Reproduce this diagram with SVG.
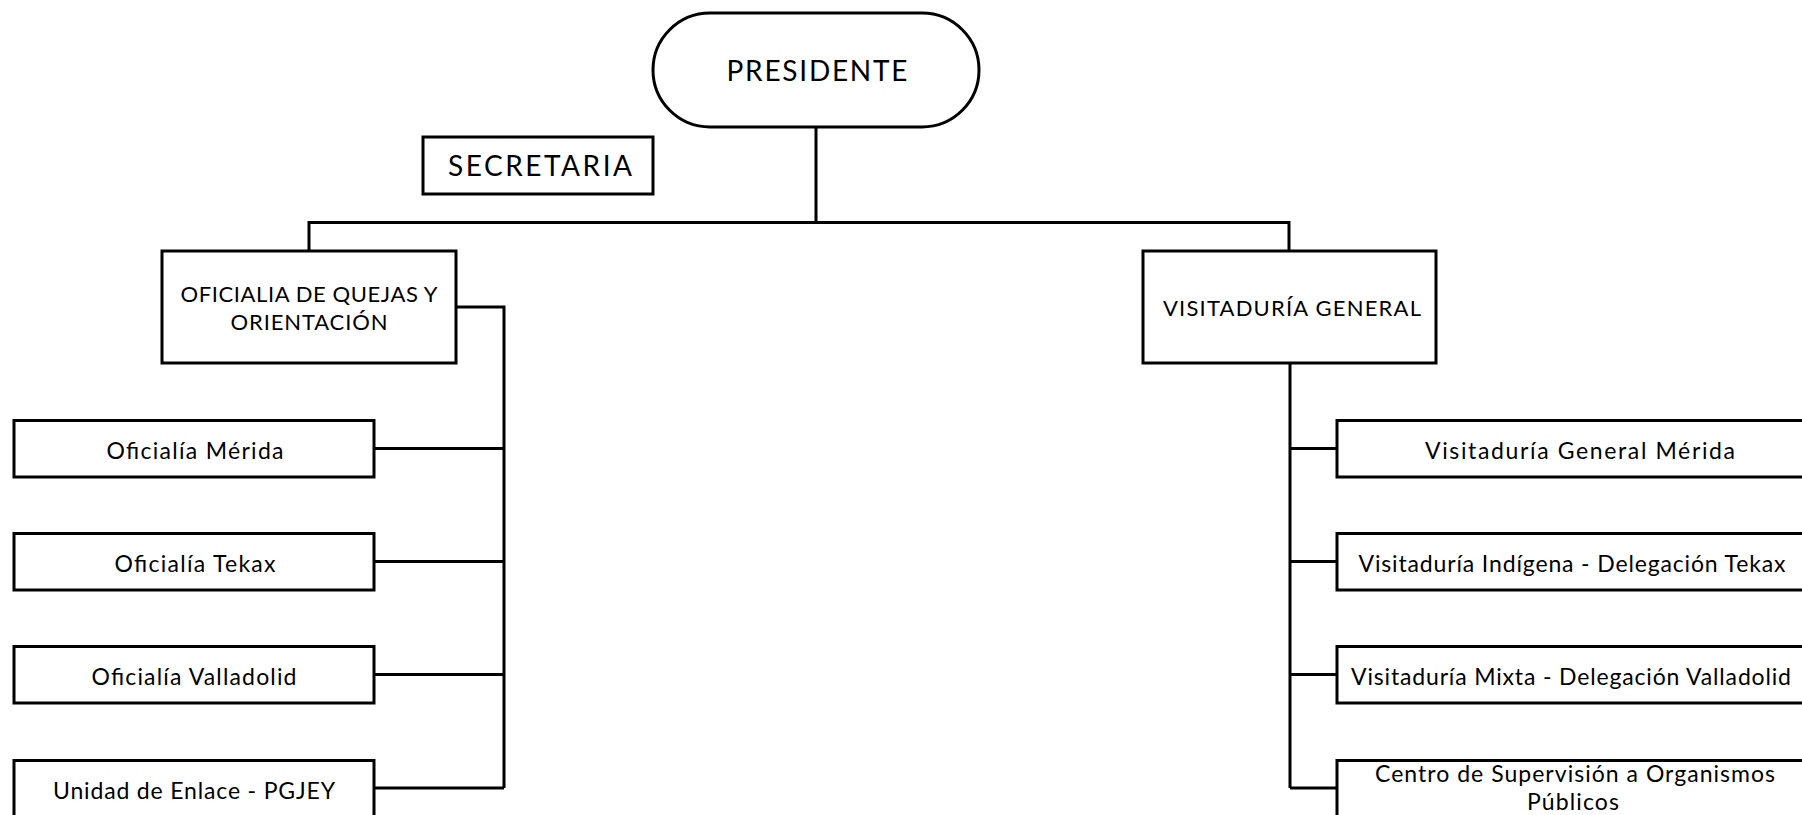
<svg xmlns="http://www.w3.org/2000/svg" width="1802" height="815" viewBox="0 0 1802 815">
<style>
.box{fill:#fff;stroke:#000;stroke-width:3}
.ln{fill:none;stroke:#000;stroke-width:3}
text{font-family:Lato,"Liberation Sans",sans-serif;fill:#000;text-anchor:middle}
.big{font-size:28px}
.mid{font-size:22px}
.sm{font-size:23px}
</style>
<rect width="1802" height="815" fill="#fff"/>
<g id="connectors">
<path class="ln" d="M816 127 V222.5 M309 251 V222.5 H1289 V251"/>
<path class="ln" d="M456 307 H504 V788 M374 448.5 H504 M374 561.5 H504 M374 674.5 H504 M374 788 H504"/>
<path class="ln" d="M1290 363 V788 M1290 448.5 H1337 M1290 561.5 H1337 M1290 674.5 H1337 M1290 788 H1337"/>
</g>
<g id="presidente">
<rect class="box" x="653" y="13" width="326" height="114" rx="57" ry="57"/>
<text class="big" x="817" y="81" textLength="181" lengthAdjust="spacing">PRESIDENTE</text>
</g>
<g id="secretaria">
<rect class="box" x="423" y="137" width="230" height="57"/>
<text class="big" x="540" y="176" textLength="184" lengthAdjust="spacing">SECRETARIA</text>
</g>
<g id="oficialia">
<rect class="box" x="162" y="251" width="294" height="112"/>
<text class="mid" x="309" y="302" textLength="257" lengthAdjust="spacing">OFICIALIA DE QUEJAS Y</text>
<text class="mid" x="309" y="330" textLength="157" lengthAdjust="spacing">ORIENTACIÓN</text>
</g>
<g id="visitaduria">
<rect class="box" x="1143" y="251" width="293" height="112"/>
<text class="mid" x="1292" y="316" textLength="258" lengthAdjust="spacing">VISITADURÍA GENERAL</text>
</g>
<g id="of-merida">
<rect class="box" x="14" y="420.5" width="360" height="56.5"/>
<text class="sm" x="195" y="459" textLength="177" lengthAdjust="spacing">Oficialía Mérida</text>
</g>
<g id="of-tekax">
<rect class="box" x="14" y="533.5" width="360" height="56.5"/>
<text class="sm" x="195" y="572" textLength="161" lengthAdjust="spacing">Oficialía Tekax</text>
</g>
<g id="of-valladolid">
<rect class="box" x="14" y="646.5" width="360" height="56.5"/>
<text class="sm" x="194" y="685" textLength="205" lengthAdjust="spacing">Oficialía Valladolid</text>
</g>
<g id="unidad-enlace">
<rect class="box" x="14" y="760.5" width="360" height="56.5"/>
<text class="sm" x="194" y="799" textLength="282" lengthAdjust="spacing">Unidad de Enlace - PGJEY</text>
</g>
<g id="vis-merida">
<rect class="box" x="1337" y="420.5" width="468" height="56.5"/>
<text class="sm" x="1580" y="459" textLength="310" lengthAdjust="spacing">Visitaduría General Mérida</text>
</g>
<g id="vis-tekax">
<rect class="box" x="1337" y="533.5" width="468" height="56.5"/>
<text class="sm" x="1572" y="572" textLength="427" lengthAdjust="spacing">Visitaduría Indígena - Delegación Tekax</text>
</g>
<g id="vis-valladolid">
<rect class="box" x="1337" y="646.5" width="468" height="56.5"/>
<text class="sm" x="1571" y="685" textLength="440" lengthAdjust="spacing">Visitaduría Mixta - Delegación Valladolid</text>
</g>
<g id="centro-supervision">
<rect class="box" x="1337" y="760.5" width="468" height="56.5"/>
<text class="sm" x="1575" y="782" textLength="400" lengthAdjust="spacing">Centro de Supervisión a Organismos</text>
<text class="sm" x="1573" y="810" textLength="92" lengthAdjust="spacing">Públicos</text>
</g>
</svg>
